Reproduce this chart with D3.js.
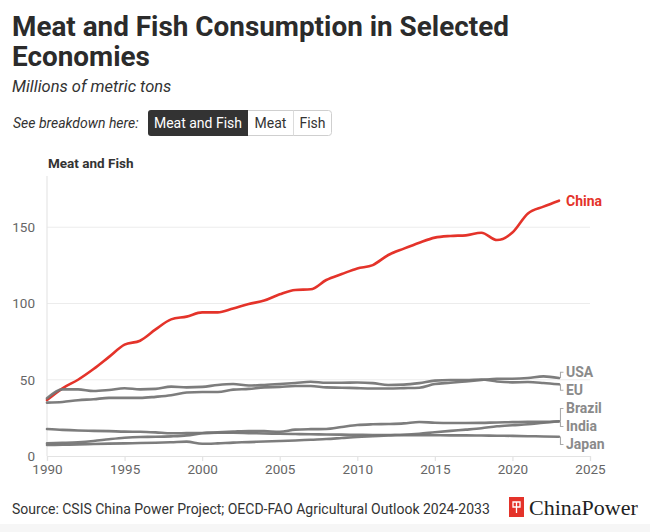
<!DOCTYPE html>
<html><head><meta charset="utf-8">
<script src="https://cdn.jsdelivr.net/npm/d3@7/dist/d3.min.js"></script>
<style>
body{margin:0;background:#fff;}
svg{display:block;font-family:Roboto, "Noto Sans", sans-serif;}
</style>
</head><body>
<svg id="chart" width="650" height="532"></svg>
<script>
// ---------- data ----------
const years = [1990,1991,1992,1993,1994,1995,1996,1997,1998,1999,2000,2001,2002,2003,2004,2005,2006,2007,2008,2009,2010,2011,2012,2013,2014,2015,2016,2017,2018,2019,2020,2021,2022,2023];
const china  = [36.7,44.4,50.0,57.0,65.0,73.0,75.6,83.0,89.6,91.4,94.2,94.2,96.8,99.7,101.9,106.0,108.9,109.3,115.4,119.3,123.0,125.2,131.8,136.0,139.9,143.2,144.3,144.7,146.4,141.6,146.5,159.0,163.5,167.4];
const usa    = [35.0,35.4,36.6,37.2,38.1,38.1,38.1,38.8,39.8,41.6,42.0,42.0,43.5,44.0,45.0,45.3,45.9,45.9,45.0,44.8,44.5,44.3,44.3,44.5,44.8,47.2,48.0,48.9,49.8,50.7,50.7,51.1,52.2,51.1];
const eu     = [37.8,43.7,43.7,42.6,43.3,44.4,43.7,44.0,45.5,45.0,45.3,46.6,47.2,46.2,46.6,47.2,47.9,48.7,48.0,48.0,48.2,47.8,46.6,46.8,47.8,49.4,49.8,49.8,50.2,48.9,48.3,48.5,47.9,47.0];
const brazil = [8.3,8.6,9.0,9.8,11.0,12.0,12.5,12.6,12.9,13.5,14.9,15.5,16.0,16.4,16.3,15.9,17.3,17.6,17.7,19.0,20.3,20.8,21.0,21.4,22.3,21.8,21.6,21.6,21.7,22.0,22.2,22.5,22.4,22.8];
const india  = [7.2,7.4,7.6,7.9,8.1,8.3,8.5,8.7,9.0,9.4,8.0,8.3,8.8,9.1,9.5,9.8,10.2,10.7,11.1,11.8,12.5,13.0,13.5,13.9,14.6,15.6,16.5,17.3,18.2,19.5,20.2,20.8,21.8,22.6];
const japan  = [17.7,17.1,16.7,16.5,16.3,16.0,15.9,15.5,14.9,15.0,15.1,15.2,15.2,15.0,14.8,14.6,14.4,14.3,14.1,14.0,13.9,13.8,13.8,13.7,13.7,13.6,13.5,13.5,13.4,13.3,13.2,13.0,12.8,12.6];
const seriesNames = ["USA","EU","Brazil","India","Japan","China"];
const xTicks = [1990,1995,2000,2005,2010,2015,2020,2025];
const yTicks = [0,50,100,150];
const buttons = ["Meat and Fish","Meat","Fish"];

const seriesValues = {USA:usa, EU:eu, Brazil:brazil, India:india, Japan:japan, China:china};

// ---------- layout ----------
const svg = d3.select("#chart");
const W = 650, H = 532;
const m = {left:47, right:60, top:181.5, bottom:76};
const x = d3.scaleLinear().domain([1990,2025]).range([m.left, W - m.right]);
const y = d3.scaleLinear().domain([0,180]).range([H - m.bottom, m.top]);

const RED = "#e4332a", GREY = "#767676", LABEL_GREY = "#8a8a8a";

// ---------- header ----------
const title = svg.append("g").attr("fill","#2b2b2b").attr("font-weight",700).attr("font-size",28);
title.append("text").attr("x",12).attr("y",36).text("Meat and Fish Consumption in Selected");
title.append("text").attr("x",12).attr("y",66).text("Economies");
// fit title width to reference
(function(){
  const t = title.select("text").node();
  const w = t.getComputedTextLength();
  const fs = 28 * 497 / w;
  title.attr("font-size", Math.min(30, Math.max(24, fs)));
})();

svg.append("text").attr("x",12).attr("y",92).attr("font-style","italic")
  .attr("font-size",16.5).attr("fill","#333").text("Millions of metric tons");

svg.append("text").attr("x",13).attr("y",128).attr("font-style","italic")
  .attr("font-size",14).attr("fill","#333").text("See breakdown here:");

// button group
const btnX = [148, 248, 293, 332];
const bg = svg.append("g");
bg.append("rect").attr("x",btnX[0]+0.5).attr("y",110.5).attr("width",btnX[3]-btnX[0]-1).attr("height",25)
  .attr("rx",3).attr("fill","#fff").attr("stroke","#cfcfcf");
bg.append("path").attr("d",`M${btnX[0]+3},110 H${btnX[1]} V136 H${btnX[0]+3} A3,3 0 0 1 ${btnX[0]},133 V113 A3,3 0 0 1 ${btnX[0]+3},110 Z`)
  .attr("fill","#333");
bg.append("line").attr("x1",btnX[2]+0.5).attr("x2",btnX[2]+0.5).attr("y1",110.5).attr("y2",135.5).attr("stroke","#dcdcdc");
buttons.forEach((b,i)=>{
  bg.append("text").attr("x",(btnX[i]+btnX[i+1])/2).attr("y",128).attr("text-anchor","middle")
    .attr("font-size",14).attr("fill", i===0 ? "#fff" : "#333").text(b);
});

svg.append("text").attr("x",48).attr("y",168).attr("font-weight",700)
  .attr("font-size",13.5).attr("fill","#333").text("Meat and Fish");

// ---------- axes / grid ----------
const grid = svg.append("g");
grid.selectAll("line.g").data(yTicks.filter(d=>d>0)).join("line")
  .attr("x1",x(1990)).attr("x2",x(2025)).attr("y1",d=>y(d)).attr("y2",d=>y(d))
  .attr("stroke","#ececec").attr("stroke-width",1.2);
grid.append("line").attr("x1",x(1990)).attr("x2",x(1990)).attr("y1",176).attr("y2",y(0))
  .attr("stroke","#e6e6e6").attr("stroke-width",1.2);

const xAxis = svg.append("g").attr("transform",`translate(0,${y(0)})`)
  .call(d3.axisBottom(x).tickValues(xTicks).tickFormat(d3.format("d")).tickSize(5).tickPadding(3));
xAxis.select(".domain").attr("stroke","#e3e3e3").attr("stroke-width",1.2);
xAxis.selectAll(".tick line").attr("stroke","#e3e3e3").attr("stroke-width",1.2);
xAxis.selectAll(".tick text").attr("fill","#666").attr("font-size",13.5).attr("font-family","Roboto, sans-serif");

const yAxis = svg.append("g").attr("transform",`translate(${x(1990)},0)`)
  .call(d3.axisLeft(y).tickValues(yTicks).tickSize(0).tickPadding(12));
yAxis.select(".domain").remove();
yAxis.selectAll(".tick text").attr("fill","#666").attr("font-size",13.5).attr("font-family","Roboto, sans-serif");

// ---------- lines ----------
const line = d3.line().x((d,i)=>x(years[i])).y(d=>y(d)).curve(d3.curveMonotoneX);
const lines = svg.append("g").attr("fill","none").attr("stroke-linejoin","round").attr("stroke-linecap","round");
lines.append("path").attr("d",line(china)).attr("stroke",RED).attr("stroke-width",2.6);
["Japan","India","Brazil","EU","USA"].forEach(n=>{
  lines.append("path").attr("d",line(seriesValues[n])).attr("stroke",GREY).attr("stroke-width",2.6).attr("stroke-opacity",0.95);
});

// ---------- end labels with simple collision avoidance ----------
const lastX = x(years[years.length-1]);
let labs = seriesNames.map(n=>({name:n, yEnd:y(seriesValues[n][seriesValues[n].length-1])}));
labs.sort((a,b)=>a.yEnd-b.yEnd);
const gap = 18;
// group-based relaxation
let groups = labs.map(l=>({items:[l], center:l.yEnd}));
let changed = true;
function place(g){ const n=g.items.length; g.items.forEach((it,i)=>it.y = g.center + (i-(n-1)/2)*gap); }
groups.forEach(place);
while(changed){
  changed=false;
  for(let i=0;i<groups.length-1;i++){
    const a=groups[i], b=groups[i+1];
    const aBot=a.items[a.items.length-1].y, bTop=b.items[0].y;
    if(bTop-aBot < gap-0.01){
      const items=a.items.concat(b.items);
      const g={items, center:d3.mean(items,d=>d.yEnd)};
      place(g);
      groups.splice(i,2,g);
      changed=true; break;
    }
  }
}
const lg = svg.append("g");
labs.forEach(l=>{
  const isChina = l.name==="China";
  if(Math.abs(l.y-l.yEnd)>2){
    lg.append("path").attr("d",`M${lastX+1.5},${l.yEnd} V${l.y} h3`)
      .attr("fill","none").attr("stroke","#aaa").attr("stroke-width",1.1);
  }
  lg.append("text").attr("x",lastX+7).attr("y",l.y).attr("dy","0.35em")
    .attr("font-weight",700).attr("font-size",14)
    .attr("fill", isChina ? RED : LABEL_GREY).text(l.name);
});

// ---------- footer ----------
svg.append("text").attr("x",12).attr("y",514).attr("font-size",14).attr("fill","#333")
  .text("Source: CSIS China Power Project; OECD-FAO Agricultural Outlook 2024-2033");
const logo = svg.append("g");
logo.append("rect").attr("x",509).attr("y",497).attr("width",15).attr("height",20).attr("fill","#e4332a");
logo.append("path").attr("d","M513,502 h7 v5 h-7 z M516.5,502 v11")
  .attr("fill","none").attr("stroke","#fff").attr("stroke-width",1.3);
logo.append("text").attr("x",529).attr("y",515).attr("font-family","'Liberation Serif', 'DejaVu Serif', serif")
  .attr("font-size",22).attr("fill","#222").text("ChinaPower");
svg.append("rect").attr("x",0).attr("y",524).attr("width",W).attr("height",8).attr("fill","#f6f6f6");
</script>
</body></html>
